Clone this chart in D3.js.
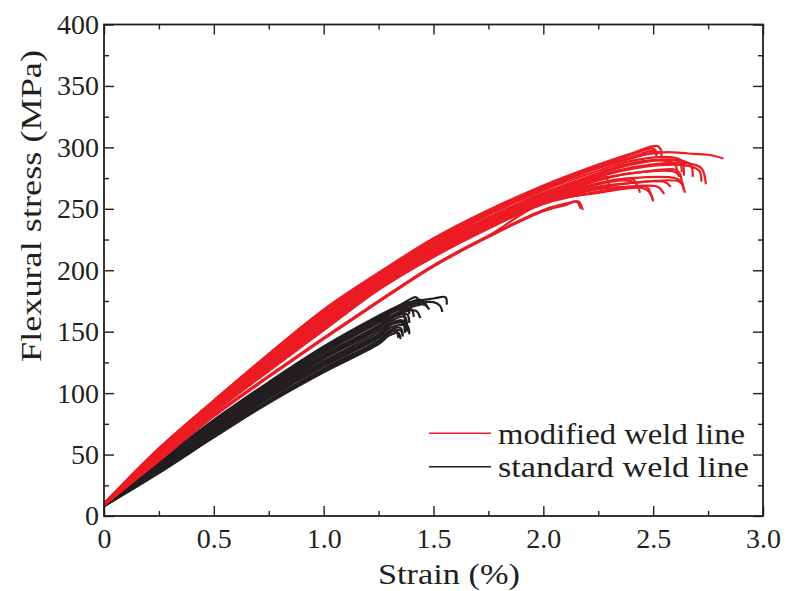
<!DOCTYPE html>
<html>
<head>
<meta charset="utf-8">
<script src="https://cdn.jsdelivr.net/npm/d3@7"></script>
<style>
  html, body { margin: 0; padding: 0; background: #fff; }
  svg { display: block; }
  text { font-family: "Liberation Serif", "Times New Roman", serif; fill: #231f20; }
</style>
</head>
<body>
<svg id="chart" width="790" height="591"></svg>
<script>
// Flexural stress–strain curves: modified vs. standard weld line specimens

const xTickValues = [0, 0.5, 1.0, 1.5, 2.0, 2.5, 3.0];
const xTickLabels = ["0", "0.5", "1.0", "1.5", "2.0", "2.5", "3.0"];
const yTickValues = [0, 50, 100, 150, 200, 250, 300, 350, 400];
const yTickLabels = ["0", "50", "100", "150", "200", "250", "300", "350", "400"];
const seriesNames = ["modified weld line", "standard weld line"];

// Strain positions (%) at which the curve bodies are sampled
const redStrain = [0, 0.25, 0.5, 0.75, 1.0, 1.25, 1.5, 1.75, 2.0, 2.25];
const blackStrain = [0, 0.25, 0.5, 0.75, 1.0, 1.25];

// Modified weld line: stress (MPa) at redStrain, one row per specimen
const redStress = [
  [10, 55, 94, 132, 168, 198, 226, 249, 269, 286],
  [10, 55, 94, 131, 167, 197, 225, 248, 268, 285],
  [10, 54, 93, 131, 166, 196, 224, 247, 267, 284],
  [10, 54, 93, 130, 166, 196, 223, 247, 267, 284],
  [10, 54, 93, 130, 165, 195, 222, 246, 266, 283],
  [10, 53, 92, 129, 164, 194, 221, 245, 265, 281],
  [10, 53, 92, 128, 163, 193, 220, 243, 263, 279],
  [10, 53, 92, 128, 162, 192, 219, 242, 262, 278],
  [10, 52, 91, 127, 161, 191, 218, 242, 262, 279],
  [10, 52, 91, 127, 161, 191, 218, 241, 261, 277],
  [10, 51, 90, 126, 160, 190, 217, 240, 260, 276],
  [9, 51, 90, 126, 159, 190, 216, 239, 259, 275],
  [9, 50, 89, 125, 159, 189, 215, 238, 258, 274],
  [9, 50, 89, 124, 158, 188, 214, 237, 257, 273],
  [9, 49, 88, 124, 157, 188, 214, 237, 257, 271],
  [9, 49, 88, 123, 156, 187, 213, 236, 256, 270],
  [9, 48, 87, 122, 155, 187, 213, 236, 256, 270],
  [9, 48, 86, 121, 154, 186, 212, 235, 255, 268],
  [9, 47, 85, 120, 153, 185, 211, 234, 254, 266],
  [9, 47, 85, 119, 152, 185, 211, 235, 255, 267],
  [9, 46, 84, 118, 151, 184, 211, 234, 254, 264],
  [9, 45, 81, 113, 144, 174, 203, 227, 248],
  [9, 45, 82, 114, 145, 175, 204, 228, 249],
  [9, 45, 82, 114, 145, 175, 204, 228, 255, 263]
];
// Modified weld line: peak and failure segment after the sampled body [strain, stress]
const redTail = [
  [[2.4, 295], [2.52, 301], [2.54, 296]],
  [[2.4, 294], [2.5, 299], [2.52, 294]],
  [[2.4, 292], [2.55, 296], [2.66, 295], [2.75, 294], [2.82, 291]],
  [[2.4, 292], [2.5, 297], [2.515, 293]],
  [[2.4, 291], [2.53, 296], [2.54, 292]],
  [[2.4, 289], [2.58, 292], [2.63, 289], [2.64, 277]],
  [[2.4, 287], [2.55, 290], [2.62, 288], [2.63, 280]],
  [[2.4, 286], [2.6, 290], [2.67, 286], [2.68, 276]],
  [[2.4, 287], [2.56, 289], [2.6, 286], [2.61, 279]],
  [[2.45, 285], [2.66, 287], [2.72, 283], [2.74, 270]],
  [[2.45, 284], [2.66, 285], [2.71, 281], [2.72, 272]],
  [[2.28, 277], [2.30, 269]],
  [[2.45, 280], [2.6, 282], [2.62, 279], [2.63, 273]],
  [[2.4, 279], [2.6, 280], [2.62, 276]],
  [[2.4, 275], [2.6, 275], [2.63, 272], [2.64, 265]],
  [[2.35, 274], [2.41, 274], [2.43, 267]],
  [[2.38, 273], [2.42, 271], [2.44, 263]],
  [[2.4, 271], [2.55, 272], [2.58, 268]],
  [[2.4, 268], [2.47, 268], [2.49, 262], [2.5, 257]],
  [[2.4, 271], [2.62, 272], [2.64, 266], [2.645, 263]],
  [[2.4, 268], [2.52, 268], [2.55, 262]],
  [[2.1, 253], [2.15, 256], [2.17, 250]],
  [[2.12, 255], [2.16, 256], [2.18, 249]],
  [[2.45, 267], [2.48, 264], [2.5, 256]]
];

// Standard weld line: stress (MPa) at blackStrain, one row per specimen
const blackStress = [
  [9, 44, 78, 109, 138, 163],
  [9, 44, 78, 108, 137, 162],
  [9, 43, 77, 108, 137, 162],
  [9, 43, 77, 107, 136, 161],
  [9, 43, 76, 106, 135, 160],
  [9, 42, 75, 105, 134, 159],
  [9, 42, 75, 105, 133, 158],
  [9, 42, 74, 104, 133, 157],
  [9, 41, 73, 103, 131, 155],
  [9, 41, 72, 102, 130, 154],
  [8, 40, 71, 101, 129, 153],
  [8, 40, 71, 100, 128, 152],
  [8, 40, 70, 99, 126, 150],
  [8, 39, 69, 98, 125, 148],
  [8, 39, 69, 98, 124, 147],
  [8, 38, 68, 97, 123, 146],
  [8, 38, 67, 96, 122, 145],
  [8, 37, 66, 94, 120, 143],
  [8, 36, 65, 93, 119, 142],
  [8, 36, 65, 93, 118, 141],
  [8, 35, 64, 92, 117, 140]
];
// Standard weld line: peak and failure segment [strain, stress]
const blackTail = [
  [[1.35, 172], [1.4, 177], [1.42, 178], [1.44, 174]],
  [[1.4, 174], [1.5, 177], [1.555, 178], [1.56, 172]],
  [[1.38, 173], [1.44, 176], [1.46, 172]],
  [[1.4, 172], [1.5, 174], [1.53, 171], [1.54, 166]],
  [[1.38, 172], [1.45, 175], [1.47, 171]],
  [[1.35, 170], [1.39, 174], [1.4, 169]],
  [[1.33, 167], [1.38, 169], [1.39, 164]],
  [[1.38, 169], [1.46, 172], [1.48, 168]],
  [[1.35, 166], [1.4, 168], [1.41, 162]],
  [[1.35, 165], [1.42, 167], [1.44, 161]],
  [[1.32, 163], [1.36, 165], [1.37, 158]],
  [[1.32, 162], [1.38, 164], [1.39, 157]],
  [[1.32, 160], [1.37, 162], [1.38, 154]],
  [[1.32, 158], [1.36, 159], [1.37, 151]],
  [[1.3, 156], [1.37, 158], [1.38, 150]],
  [[1.3, 155], [1.36, 157], [1.37, 149]],
  [[1.3, 153], [1.38, 155], [1.39, 148]],
  [[1.3, 151], [1.35, 153], [1.36, 147]],
  [[1.3, 150], [1.33, 151], [1.34, 145]],
  [[1.3, 149], [1.35, 151], [1.36, 146]],
  [[1.3, 147], [1.34, 149], [1.35, 144]]
];

const RED = "#ec1c24";
const BLACK = "#231f20";

const svg = d3.select("#chart");
const plotLeft = 104, plotRight = 763, plotTop = 24.5, plotBottom = 516;

const x = d3.scaleLinear().domain([0, 3]).range([plotLeft, plotRight]);
const y = d3.scaleLinear().domain([0, 400]).range([plotBottom, plotTop]);

const line = d3.line()
  .x(d => x(d[0]))
  .y(d => y(d[1]))
  .curve(d3.curveCatmullRom.alpha(0.5));

function buildCurves(strains, stresses, tails) {
  return stresses.map((row, i) =>
    row.map((v, j) => [strains[j], v]).concat(tails[i]));
}

const blackCurves = buildCurves(blackStrain, blackStress, blackTail);
const redCurves = buildCurves(redStrain, redStress, redTail);

const plot = svg.append("g");
plot.selectAll("path.std")
  .data(blackCurves).join("path")
  .attr("class", "std")
  .attr("d", line)
  .attr("fill", "none")
  .attr("stroke", BLACK)
  .attr("stroke-width", 2.2)
  .attr("stroke-linejoin", "round");

plot.selectAll("path.mod")
  .data(redCurves).join("path")
  .attr("class", "mod")
  .attr("d", line)
  .attr("fill", "none")
  .attr("stroke", RED)
  .attr("stroke-width", 2.2)
  .attr("stroke-linejoin", "round");

// Axes: ticks point inward on all four sides
const xMinor = d3.range(0.25, 3, 0.5);
const yMinor = d3.range(25, 400, 50);

function styleAxis(g) {
  g.select(".domain").remove();
  g.selectAll("line").attr("stroke", BLACK).attr("stroke-width", 1.4);
  g.selectAll("text").attr("font-size", 28).attr("fill", BLACK)
    .attr("font-family", "'Liberation Serif', serif");
}

svg.append("g").attr("transform", `translate(0,${plotBottom})`)
  .call(d3.axisBottom(x).tickValues(xTickValues)
    .tickFormat((d, i) => xTickLabels[i]).tickSize(-10).tickPadding(12))
  .call(styleAxis);
svg.append("g").attr("transform", `translate(0,${plotBottom})`)
  .call(d3.axisBottom(x).tickValues(xMinor).tickFormat("").tickSize(-5))
  .call(styleAxis);
svg.append("g").attr("transform", `translate(0,${plotTop})`)
  .call(d3.axisTop(x).tickValues(xTickValues).tickFormat("").tickSize(-10))
  .call(styleAxis);
svg.append("g").attr("transform", `translate(0,${plotTop})`)
  .call(d3.axisTop(x).tickValues(xMinor).tickFormat("").tickSize(-5))
  .call(styleAxis);

svg.append("g").attr("transform", `translate(${plotLeft},0)`)
  .call(d3.axisLeft(y).tickValues(yTickValues)
    .tickFormat((d, i) => yTickLabels[i]).tickSize(-10).tickPadding(5))
  .call(styleAxis);
svg.append("g").attr("transform", `translate(${plotLeft},0)`)
  .call(d3.axisLeft(y).tickValues(yMinor).tickFormat("").tickSize(-5))
  .call(styleAxis);
svg.append("g").attr("transform", `translate(${plotRight},0)`)
  .call(d3.axisRight(y).tickValues(yTickValues).tickFormat("").tickSize(-10))
  .call(styleAxis);
svg.append("g").attr("transform", `translate(${plotRight},0)`)
  .call(d3.axisRight(y).tickValues(yMinor).tickFormat("").tickSize(-5))
  .call(styleAxis);

// Frame
svg.append("rect")
  .attr("x", plotLeft).attr("y", plotTop)
  .attr("width", plotRight - plotLeft).attr("height", plotBottom - plotTop)
  .attr("fill", "none").attr("stroke", BLACK).attr("stroke-width", 1.8);

// Axis titles
svg.append("text")
  .attr("x", 449).attr("y", 584)
  .attr("text-anchor", "middle").attr("font-size", 29)
  .attr("textLength", 142).attr("lengthAdjust", "spacingAndGlyphs")
  .text("Strain (%)");
svg.append("text")
  .attr("transform", "translate(41,206) rotate(-90)")
  .attr("text-anchor", "middle").attr("font-size", 29)
  .attr("textLength", 312).attr("lengthAdjust", "spacingAndGlyphs")
  .text("Flexural stress (MPa)");

// Legend
const legendColors = [RED, BLACK];
const legendWidths = [247, 251];
const legend = svg.append("g");
seriesNames.forEach((name, i) => {
  const ly = 433.3 + i * 33.4;
  legend.append("line")
    .attr("x1", 429).attr("x2", 491).attr("y1", ly).attr("y2", ly)
    .attr("stroke", legendColors[i]).attr("stroke-width", 1.6);
  legend.append("text")
    .attr("x", 498).attr("y", ly + 10.5)
    .attr("font-size", 29)
    .attr("textLength", legendWidths[i]).attr("lengthAdjust", "spacingAndGlyphs")
    .text(name);
});
</script>
</body>
</html>
